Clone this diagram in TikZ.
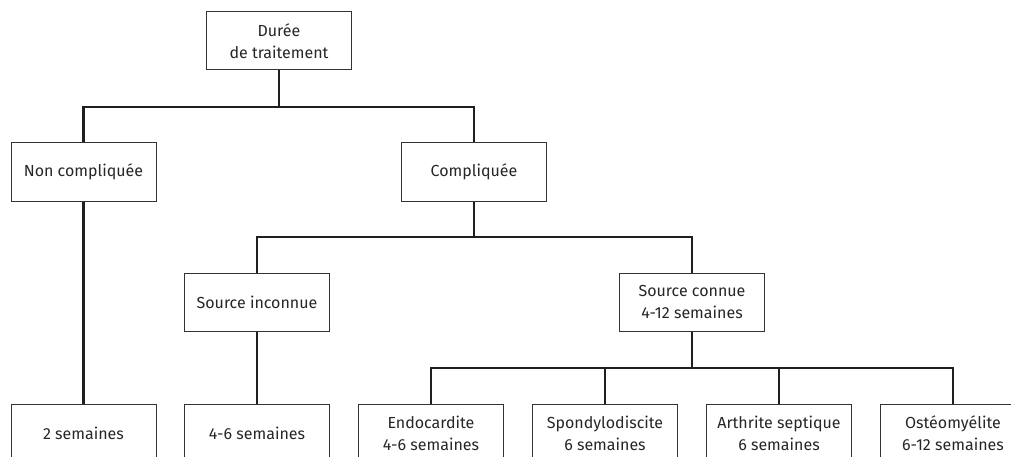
\documentclass[tikz,border=0pt]{standalone}
\usepackage{fontspec}
\setmainfont{Fira Sans}
\tikzset{every picture/.style={line width=0.75pt}}
\tikzset{
  box/.style={draw=black!80, line width=1pt, fill=white, minimum width=145pt, minimum height=58pt, inner sep=0pt, align=center, text=black!85, font=\fontsize{16}{22}\selectfont},
  conn/.style={draw=black!88, line width=2.4pt}
}

\begin{document}
\begin{tikzpicture}[x=1pt,y=1pt,yscale=-1,xscale=1]
\useasboundingbox (0,0) rectangle (1011,457);

% Level 0
\node [box] (duree) at (279,41) {Durée\\de traitement};

% Level 1
\node [box] (noncomp) at (83.5,172) {Non compliquée};
\node [box] (comp) at (474,172) {Compliquée};

% Level 2
\node [box] (inconnue) at (257,302) {Source inconnue};
\node [box] (connue) at (692,302) {Source connue\\4-12 semaines};

% Level 3
\node [box] (deux) at (83.5,433) {2 semaines};
\node [box] (quatre) at (257,433) {4-6 semaines};
\node [box] (endo) at (431,433) {Endocardite\\4-6 semaines};
\node [box] (spondy) at (605,433) {Spondylodiscite\\6 semaines};
\node [box] (arthr) at (779,433) {Arthrite septique\\6 semaines};
\node [box] (osteo) at (953,433) {Ostéomyélite\\6-12 semaines};

% Branch points
\coordinate (b1) at (279,107);
\coordinate (b2) at (474,237);
\coordinate (b3) at (692,368);

% Connectors
\draw [conn] (duree.south) -- (b1);
\draw [conn] (noncomp.north) |- (b1) -| (comp.north);
\draw [conn] (comp.south) -- (b2);
\draw [conn] (inconnue.north) |- (b2) -| (connue.north);
\draw [conn] (noncomp.south) -- (deux.north);
\draw [conn] (inconnue.south) -- (quatre.north);
\draw [conn] (connue.south) -- (b3);
\draw [conn] (endo.north) |- (b3) -| (osteo.north);
\draw [conn] (spondy.north) -- (spondy.north |- b3);
\draw [conn] (arthr.north) -- (arthr.north |- b3);

\end{tikzpicture}
\end{document}
